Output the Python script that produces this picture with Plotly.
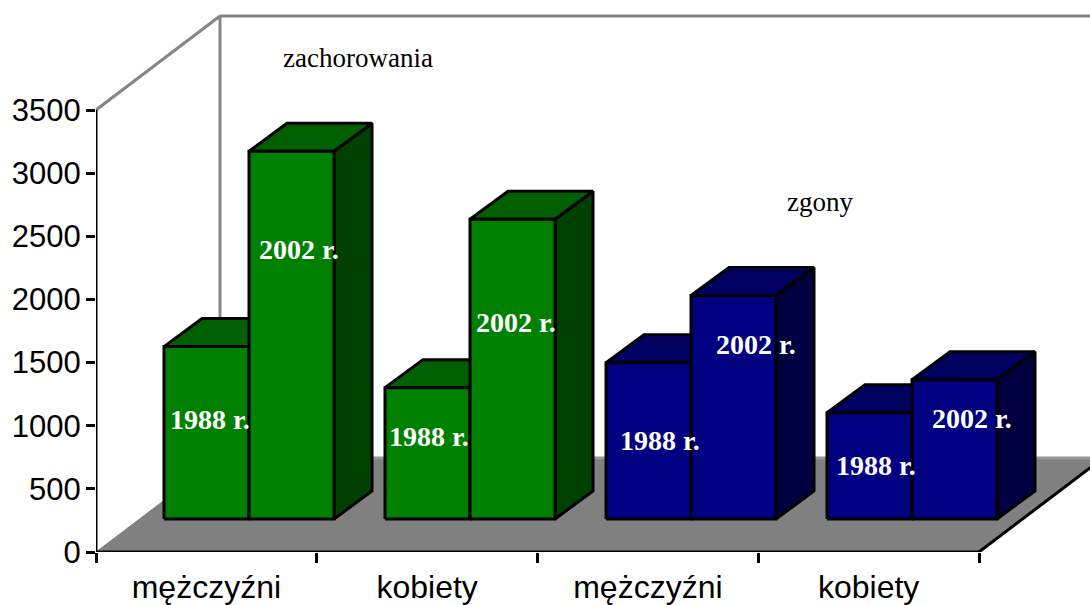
import plotly.graph_objects as go

# Data
categories = ["mężczyźni", "kobiety", "mężczyźni", "kobiety"]
values_1988 = [1365, 1040, 1238, 841]
values_2002 = [2912, 2373, 1770, 1103]
y_ticks = [0, 500, 1000, 1500, 2000, 2500, 3000, 3500]
year_labels = ["1988 r.", "2002 r."]
group_colors = [
    ("#008000", "#006000", "#004000"),
    ("#008000", "#006000", "#004000"),
    ("#000080", "#000060", "#000040"),
    ("#000080", "#000060", "#000040"),
]

# Geometry in axis units
W, H = 1090, 605
X0_PX, Y0_PX, PX_PER_CAT, PX_PER_VAL = 96, 552, 220.75, 442 / 3500
BAR_W = 85 / PX_PER_CAT
BAR_OFFSET = 68 / PX_PER_CAT
GROUP_STEP = 221 / PX_PER_CAT
BAR_DX, BAR_DY = 38 / PX_PER_CAT, 28 / PX_PER_VAL
BASE = 33 / PX_PER_VAL
WALL_DX, WALL_DY = 124 / PX_PER_CAT, 94 / PX_PER_VAL
YMAX = y_ticks[-1]
N = len(categories)

fig = go.Figure()


def poly(xs, ys, fill, line="black", width=3):
    fig.add_trace(go.Scatter(
        x=xs, y=ys, mode="lines", fill="toself", fillcolor=fill,
        line=dict(color=line, width=width), hoverinfo="skip",
        showlegend=False, cliponaxis=False))


def line(xs, ys, color, width=2):
    fig.add_trace(go.Scatter(
        x=xs, y=ys, mode="lines", line=dict(color=color, width=width),
        hoverinfo="skip", showlegend=False, cliponaxis=False))


def box(x, value, colors):
    front, top, side = colors
    x1 = x + BAR_W
    y0 = BASE
    y1 = BASE + value
    poly([x1, x1 + BAR_DX, x1 + BAR_DX, x1, x1],
         [y0, y0 + BAR_DY, y1 + BAR_DY, y1, y0], side)
    poly([x, x + BAR_DX, x1 + BAR_DX, x1, x],
         [y1, y1 + BAR_DY, y1 + BAR_DY, y1, y1], top)
    poly([x, x1, x1, x, x], [y0, y0, y1, y1, y0], front)


# Floor and walls
right_limit = (W - X0_PX) / PX_PER_CAT
poly([0, WALL_DX, N + WALL_DX, N, 0], [0, WALL_DY, WALL_DY, 0, 0], "#808080",
     line="#808080", width=1)
line([WALL_DX, right_limit], [WALL_DY, WALL_DY], "#969696", 3)
line([0, WALL_DX, WALL_DX], [YMAX, YMAX + WALL_DY, WALL_DY], "#868686", 3)
line([WALL_DX, N + WALL_DX], [YMAX + WALL_DY, YMAX + WALL_DY], "#868686", 3)

# Bars
for i in range(N):
    start = i * GROUP_STEP + BAR_OFFSET
    box(start, values_1988[i], group_colors[i])
    box(start + BAR_W, values_2002[i], group_colors[i])

# Axis lines
line([N, N + WALL_DX], [0, WALL_DY], "black", 3)
line([0, N], [0, 0], "black", 3)
line([0, 0], [0, YMAX], "black", 3)

# Annotations positioned in pixel space
def note(text, px, py, size, color, bold=False):
    fig.add_annotation(
        text=f"<b>{text}</b>" if bold else text,
        x=px / W, y=1 - py / H, xref="paper", yref="paper",
        xanchor="center", yanchor="middle", showarrow=False,
        font=dict(family="Liberation Serif", size=size, color=color))


label_px_1988 = [(210, 419), (429, 436), (660, 440), (876, 465)]
label_px_2002 = [(299.5, 249), (515.5, 322), (755.5, 344), (972, 418)]
for p in label_px_1988:
    note(year_labels[0], p[0], p[1], 28, "white", True)
for p in label_px_2002:
    note(year_labels[1], p[0], p[1], 28, "white", True)
note("zachorowania", 358, 58, 27, "black")
note("zgony", 820, 202, 27, "black")

fig.update_layout(
    width=W, height=H, margin=dict(l=0, r=0, t=0, b=0),
    paper_bgcolor="white", plot_bgcolor="white", showlegend=False,
    font=dict(family="Liberation Sans", color="black"),
    xaxis=dict(
        automargin=False,
        domain=[X0_PX / W, 1], range=[0, right_limit], showgrid=False,
        zeroline=False, showline=False,
        tickvals=[i + 0.5 for i in range(N)], ticktext=categories,
        ticks="", tickfont=dict(size=32), ticklabelstandoff=13,
        minor=dict(tickvals=list(range(N + 1)), ticks="outside",
                   ticklen=10, tickwidth=3, tickcolor="black", showgrid=False),
    ),
    yaxis=dict(
        automargin=False,
        domain=[(H - Y0_PX) / H, 1], range=[0, Y0_PX / PX_PER_VAL],
        showgrid=False, zeroline=False, showline=False,
        tickvals=y_ticks, ticks="outside", ticklen=9, tickwidth=3,
        tickcolor="black", tickfont=dict(size=31), ticklabelstandoff=-1,
    ),
)

fig.write_html("out.html", post_script="document.body.style.margin='0';",
               config={"displayModeBar": False})
